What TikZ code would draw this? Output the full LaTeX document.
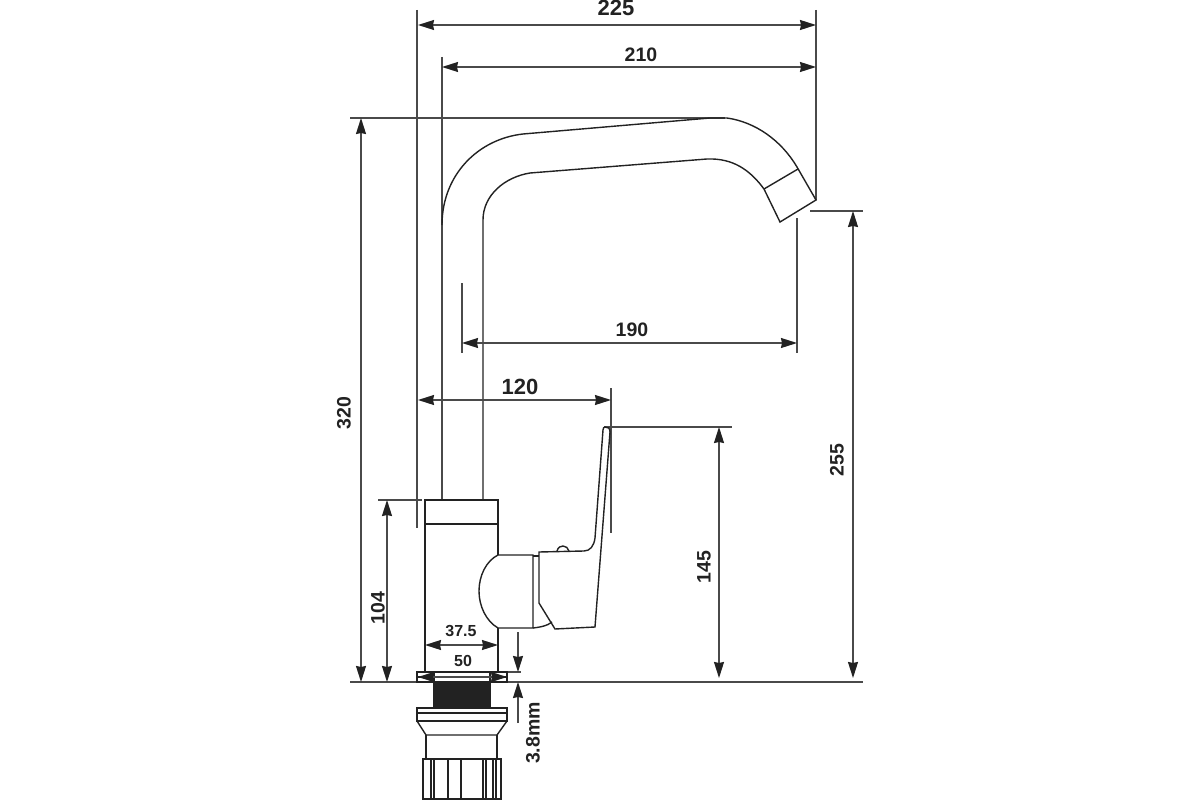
\documentclass[tikz,border=0pt]{standalone}
\usepackage{fontspec}
\setmainfont{Liberation Sans}
\usetikzlibrary{arrows.meta}
\definecolor{ink}{HTML}{222222}
\definecolor{dimc}{HTML}{4A4A4A}
\tikzset{
  body/.style={draw=ink,line width=1.4pt,line join=miter},
  ext/.style={draw=dimc,line width=1.5pt},
  dim/.style={draw=dimc,line width=1.4pt,{Stealth[length=16pt,width=10pt,inset=1pt,color=ink]}-{Stealth[length=16pt,width=10pt,inset=1pt,color=ink]}},
  tip/.style={draw=dimc,line width=1.4pt,-{Stealth[length=16pt,width=10pt,inset=1pt,color=ink]}},
  lab/.style={font=\bfseries\fontsize{19.5}{20}\selectfont,text=ink,inner sep=0pt},
  labs/.style={font=\bfseries\fontsize{16}{16}\selectfont,text=ink,inner sep=0pt},
  labb/.style={font=\bfseries\fontsize{22}{22}\selectfont,text=ink,inner sep=0pt}
}
\begin{document}
\begin{tikzpicture}[x=1pt,y=-1pt]
\useasboundingbox (0,0) rectangle (1200,800);
% extension lines
\draw[ext] (417,10) -- (417,528);
\draw[ext] (442,57) -- (442,500);
\draw[ext] (816,10) -- (816,200);
\draw[ext] (350,118) -- (725,118);
\draw[ext] (350,682) -- (863,682);
\draw[ext] (378,500) -- (422,500);
\draw[ext] (810,211) -- (863,211);
\draw[ext] (604,427) -- (732,427);
\draw[ext] (462,283) -- (462,353);
\draw[ext] (797,218) -- (797,353);
\draw[ext] (611,388) -- (611,533);
\draw[ext] (507,672) -- (521,672);
% spout
\draw[body] (442,225) .. controls (442,175) and (478,139) .. (523,134)
  -- (710,118) -- (727,118) .. controls (755,122) and (781,140) .. (797,167)
  -- (816,200) -- (780,222) -- (764,189) .. controls (750,170) and (733,158) .. (707,159)
  -- (530,173) .. controls (505,177) and (483,195) .. (483,220) -- (483,500);
\draw[body] (764,189) -- (798,169);
% body
\draw[body] (425,672) -- (425,500) -- (498,500) -- (498,555);
\draw[body] (425,524) -- (498,524);
\draw[body] (498,628) -- (498,672);
% knob
\draw[body] (498,555) .. controls (486,561) and (479,576) .. (479,591) .. controls (479,606) and (486,621) .. (498,628) -- (533,628) -- (533,555) -- cycle;
\draw[body] (533,556) -- (539,556);
\draw[body] (533,628) .. controls (541,627) and (547,626) .. (552,622);
% handle
\draw[body] (539,552) -- (539,603) -- (555,629) -- (595,627) -- (610,432)
  .. controls (610,428) and (608,427) .. (605,427) .. controls (604,427) and (603,428) .. (603,430)
  -- (595,538) .. controls (594,546) and (590,551) .. (584,551) -- cycle;
\draw[body] (557,551) .. controls (558,547) and (561,546) .. (563,546) .. controls (566,546) and (568,548) .. (569,551);
% waste fitting
\draw[body] (417,672) rectangle (507,682);
\draw[body] (417,677) -- (507,677);
\draw[body] (434,672) -- (434,682);
\draw[body] (490,672) -- (490,682);
\fill[ink] (433,682) rectangle (491,708);
\draw[body] (417,708) rectangle (507,721);
\draw[body] (417,713) -- (507,713);
\draw[body] (417,721) -- (426,735) -- (497,735) -- (507,721);
\draw[body] (426,735) -- (426,759);
\draw[body] (497,735) -- (497,759);
\draw[body] (423,759) -- (501,759) -- (501,799) -- (423,799) -- cycle;
\foreach \xx in {431,434,448,461,483,486,493,496} \draw[body,line width=1.2pt] (\xx,759) -- (\xx,799);
% dimension lines
\coordinate (a1) at (418,25); \coordinate (a2) at (816,25);
\coordinate (b1) at (442,67); \coordinate (b2) at (816,67);
\coordinate (c1) at (462,343); \coordinate (c2) at (797,343);
\coordinate (d1) at (418,400); \coordinate (d2) at (611,400);
\coordinate (e1) at (361,118); \coordinate (e2) at (361,682);
\coordinate (f1) at (387,500); \coordinate (f2) at (387,682);
\coordinate (g1) at (853,211); \coordinate (g2) at (853,678);
\coordinate (h1) at (719,427); \coordinate (h2) at (719,678);
\coordinate (i1) at (425,645); \coordinate (i2) at (498,645);
\coordinate (j1) at (418,677); \coordinate (j2) at (507,677);
\coordinate (k1) at (518,632); \coordinate (k2) at (518,672);
\coordinate (l1) at (518,723); \coordinate (l2) at (518,682);
\draw[dim] (a1) -- (a2);
\draw[dim] (b1) -- (b2);
\draw[dim] (c1) -- (c2);
\draw[dim] (d1) -- (d2);
\draw[dim] (e1) -- (e2);
\draw[dim] (f1) -- (f2);
\draw[dim] (g1) -- (g2);
\draw[dim] (h1) -- (h2);
\draw[dim] (i1) -- (i2);
\draw[dim] (j1) -- (j2);
\draw[tip] (k1) -- (k2);
\draw[tip] (l1) -- (l2);
% labels
\node[labb] (t225) at (616,8) {225};
\node[lab] (t210) at (641,55) {210};
\node[lab] (t190) at (632,330) {190};
\node[labb] (t120) at (520,387) {120};
\node[lab,rotate=90] (t320) at (344,413) {320};
\node[lab,rotate=90] (t104) at (378,608) {104};
\node[lab,rotate=90] (t255) at (837,460) {255};
\node[lab,rotate=90] (t145) at (704,567) {145};
\node[labs] (t375) at (461,631) {37.5};
\node[labs] (t50) at (463,661) {50};
\node[lab,rotate=90] (t38) at (533,733) {3.8mm};
\end{tikzpicture}
\end{document}
